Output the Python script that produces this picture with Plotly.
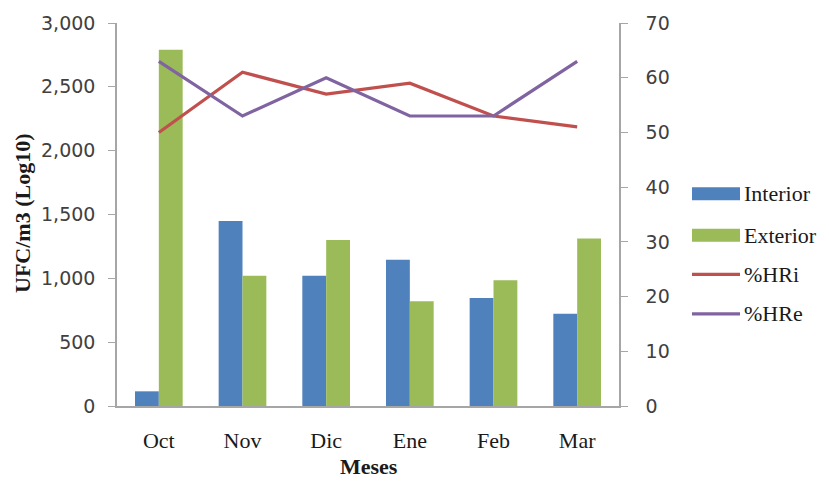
import plotly.graph_objects as go

# Monthly airborne counts (UFC/m3) and relative humidity (%)
meses = ["Oct", "Nov", "Dic", "Ene", "Feb", "Mar"]
interior = [115, 1450, 1020, 1145, 845, 722]
exterior = [2790, 1020, 1300, 820, 985, 1312]
hr_interior = [50, 61, 57, 59, 53, 51]
hr_exterior = [63, 53, 60, 53, 53, 63]

left_ticks = [0, 500, 1000, 1500, 2000, 2500, 3000]
right_ticks = [0, 10, 20, 30, 40, 50, 60, 70]

SERIF = "Liberation Serif, Times New Roman, serif"
SANS = "DejaVu Sans, Verdana, sans-serif"
AXIS_COLOR = "#a6a6a6"
TICK_TEXT = "#404040"

COLORS = {"Interior": "#4F81BD", "Exterior": "#9BBB59",
          "%HRi": "#C0504D", "%HRe": "#8064A2"}

# plot area in pixels (used for placing the legend and titles)
W, H = 829, 483
L, R, T, B = 117, 210, 19, 77
PW, PH = W - L - R, H - T - B


def px(x):
    return (x - L) / PW


def py(y):
    return (H - B - y) / PH


fig = go.Figure()
fig.add_trace(go.Bar(x=meses, y=interior, name="Interior",
                     marker=dict(color=COLORS["Interior"], line=dict(width=0))))
fig.add_trace(go.Bar(x=meses, y=exterior, name="Exterior",
                     marker=dict(color=COLORS["Exterior"], line=dict(width=0))))
fig.add_trace(go.Scatter(x=meses, y=hr_interior, name="%HRi", mode="lines",
                         line=dict(color=COLORS["%HRi"], width=3.2), yaxis="y2"))
fig.add_trace(go.Scatter(x=meses, y=hr_exterior, name="%HRe", mode="lines",
                         line=dict(color=COLORS["%HRe"], width=3.2), yaxis="y2"))

# Legend drawn as swatches + labels
shapes = []
annotations = []
legend_rows = [("Interior", 191.5, "bar"), ("Exterior", 233.5, "bar"),
               ("%HRi", 273, "line"), ("%HRe", 313, "line")]
for name, yc, kind in legend_rows:
    if kind == "bar":
        shapes.append(dict(type="rect", xref="paper", yref="paper",
                           x0=px(692), x1=px(740), y0=py(yc + 6.5), y1=py(yc - 6.5),
                           fillcolor=COLORS[name], line=dict(width=0)))
    else:
        shapes.append(dict(type="line", xref="paper", yref="paper",
                           x0=px(692), x1=px(740), y0=py(yc), y1=py(yc),
                           line=dict(color=COLORS[name], width=3.2)))
    annotations.append(dict(text=name, xref="paper", yref="paper",
                            x=px(742), y=py(yc), xanchor="left", yanchor="middle",
                            showarrow=False,
                            font=dict(family=SERIF, size=22, color="#1a1a1a")))

# Axis titles
annotations.append(dict(text="<b>UFC/m3 (Log10)</b>", xref="paper", yref="paper",
                        x=px(22), y=py(212), xanchor="center", yanchor="middle",
                        textangle=-90, showarrow=False,
                        font=dict(family=SERIF, size=22, color="#1a1a1a")))
annotations.append(dict(text="<b>Meses</b>", xref="paper", yref="paper",
                        x=px(369), y=py(467), xanchor="center", yanchor="middle",
                        showarrow=False,
                        font=dict(family=SERIF, size=22, color="#1a1a1a")))

fig.update_layout(
    width=W, height=H,
    margin=dict(l=L, r=R, t=T, b=B),
    paper_bgcolor="white", plot_bgcolor="white",
    font=dict(family=SERIF, size=20, color="#262626"),
    barmode="group", bargap=0.43, bargroupgap=0,
    showlegend=False,
    shapes=shapes,
    annotations=annotations,
    xaxis=dict(
        showline=True, linecolor=AXIS_COLOR, linewidth=1.5,
        ticks="outside", ticklen=14, tickcolor="rgba(0,0,0,0)",
        showgrid=False,
        tickfont=dict(size=22, family=SERIF, color="#1a1a1a"),
    ),
    yaxis=dict(
        range=[0, 3000], tickvals=left_ticks,
        tickformat=",d",
        showline=True, linecolor=AXIS_COLOR, linewidth=1.5,
        ticks="outside", ticklen=7, tickcolor=AXIS_COLOR,
        showgrid=False, zeroline=False,
        ticklabelstandoff=9,
        tickfont=dict(size=19, family=SANS, color=TICK_TEXT),
    ),
    yaxis2=dict(
        range=[0, 70], tickvals=right_ticks,
        overlaying="y", side="right",
        showline=True, linecolor=AXIS_COLOR, linewidth=1.5,
        ticks="outside", ticklen=7, tickcolor=AXIS_COLOR,
        showgrid=False, zeroline=False,
        ticklabelstandoff=14,
        tickfont=dict(size=19, family=SANS, color=TICK_TEXT),
    ),
)

fig.write_html("out.html")
